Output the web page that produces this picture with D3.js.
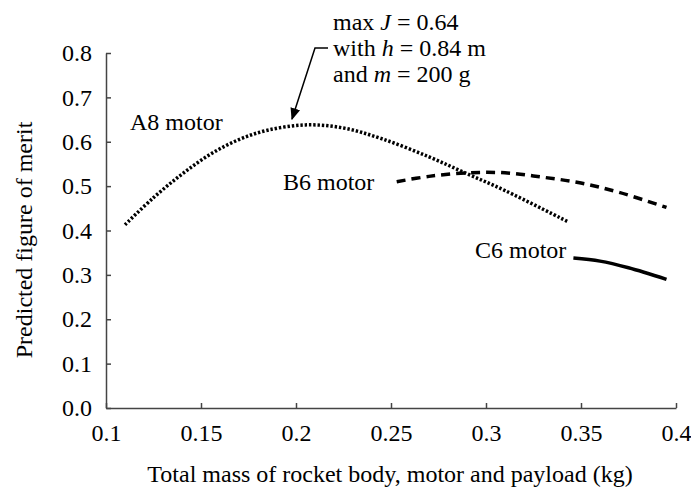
<!DOCTYPE html>
<html>
<head>
<meta charset="utf-8">
<script src="https://cdn.jsdelivr.net/npm/d3@7"></script>
</head>
<body style="margin:0; background:#fff">
<div id="chart"></div>
<script>
// data (mass in kg, figure of merit J)
const a8Mass  = [0.11, 0.125, 0.14, 0.155, 0.17, 0.185, 0.205, 0.225, 0.245, 0.27, 0.29, 0.31, 0.343];
const a8Merit = [0.413, 0.474, 0.527, 0.572, 0.605, 0.626, 0.638, 0.631, 0.607, 0.566, 0.528, 0.49, 0.42];
const b6Mass  = [0.253, 0.27, 0.29, 0.31, 0.33, 0.35, 0.37, 0.395];
const b6Merit = [0.51, 0.522, 0.53, 0.53, 0.52, 0.507, 0.486, 0.452];
const c6Mass  = [0.346, 0.36, 0.375, 0.395];
const c6Merit = [0.338, 0.331, 0.316, 0.29];
const xTicks = [0.1, 0.15, 0.2, 0.25, 0.3, 0.35, 0.4];
const yTicks = [0, 0.1, 0.2, 0.3, 0.4, 0.5, 0.6, 0.7, 0.8];

const width = 691, height = 494;
const margin = {top: 53, right: 15, bottom: 86, left: 106};
const serif = '"Liberation Serif"';
const fs = 24;

const svg = d3.select("#chart").append("svg")
    .attr("width", width)
    .attr("height", height);

const x = d3.scaleLinear().domain([0.1, 0.4]).range([margin.left, width - margin.right]);
const y = d3.scaleLinear().domain([0, 0.8]).range([height - margin.bottom, margin.top]);

// axes, ticks pointing inward
const xAxis = svg.append("g")
    .attr("transform", `translate(0,${y(0)})`)
    .call(d3.axisBottom(x).tickValues(xTicks).tickSizeInner(-5).tickSizeOuter(0).tickPadding(16).tickFormat(d3.format("")));
const yAxis = svg.append("g")
    .attr("transform", `translate(${x(0.1)},0)`)
    .call(d3.axisLeft(y).tickValues(yTicks).tickSizeInner(-5).tickSizeOuter(0).tickPadding(14).tickFormat(d3.format(".1f")));

[xAxis, yAxis].forEach(g => {
    g.selectAll("path, line").attr("stroke", "#444").attr("stroke-width", 1.5);
    g.selectAll("text").attr("fill", "#000").attr("font-size", fs);
});
xAxis.selectAll("text").attr("dy", "0.71em");

// axis titles
svg.append("text")
    .attr("x", 390)
    .attr("y", 482)
    .attr("text-anchor", "middle")
    .attr("font-size", fs)
    .text("Total mass of rocket body, motor and payload (kg)");

svg.append("text")
    .attr("transform", "translate(32,240) rotate(-90)")
    .attr("text-anchor", "middle")
    .attr("font-size", fs)
    .text("Predicted figure of merit");

// curves
const line = d3.line()
    .x(d => x(d[0]))
    .y(d => y(d[1]))
    .curve(d3.curveCatmullRom);

svg.append("path")
    .datum(d3.zip(a8Mass, a8Merit))
    .attr("d", line)
    .attr("fill", "none")
    .attr("stroke", "#000")
    .attr("stroke-width", 3.5)
    .attr("stroke-dasharray", "2.4 1.9");

svg.append("path")
    .datum(d3.zip(b6Mass, b6Merit))
    .attr("d", line)
    .attr("fill", "none")
    .attr("stroke", "#000")
    .attr("stroke-width", 3.5)
    .attr("stroke-dasharray", "9 6");

svg.append("path")
    .datum(d3.zip(c6Mass, c6Merit))
    .attr("d", line)
    .attr("fill", "none")
    .attr("stroke", "#000")
    .attr("stroke-width", 3.5);

// series labels
svg.append("text").attr("x", 130).attr("y", 130).attr("font-size", fs).text("A8 motor");
svg.append("text").attr("x", 283).attr("y", 190).attr("font-size", fs).text("B6 motor");
svg.append("text").attr("x", 475).attr("y", 258).attr("font-size", fs).text("C6 motor");

// annotation for the maximum of A8
const l1 = svg.append("text").attr("font-size", fs).attr("x", 333).attr("y", 30);
l1.append("tspan").text("max ");
l1.append("tspan").style("font-style", "italic").text("J");
l1.append("tspan").text(" = 0.64");
const l2 = svg.append("text").attr("font-size", fs).attr("x", 333).attr("y", 56);
l2.append("tspan").text("with ");
l2.append("tspan").style("font-style", "italic").text("h");
l2.append("tspan").text(" = 0.84 m");
const l3 = svg.append("text").attr("font-size", fs).attr("x", 333).attr("y", 82);
l3.append("tspan").text("and ");
l3.append("tspan").style("font-style", "italic").text("m");
l3.append("tspan").text(" = 200 g");

svg.append("defs").append("marker")
    .attr("id", "arrow")
    .attr("viewBox", "0 0 10 10")
    .attr("refX", 9).attr("refY", 5)
    .attr("markerWidth", 12).attr("markerHeight", 10)
    .attr("markerUnits", "userSpaceOnUse")
    .attr("orient", "auto")
    .attr("preserveAspectRatio", "none")
    .append("path")
    .attr("d", "M0,0 L10,5 L0,10 Z")
    .attr("fill", "#000");

svg.append("path")
    .attr("d", `M328,48 L315,48 L${x(0.2) - 4},${y(0.64) - 5}`)
    .attr("fill", "none")
    .attr("stroke", "#000")
    .attr("stroke-width", 1.5)
    .attr("marker-end", "url(#arrow)");

// serif font on every text
svg.selectAll("text").style("font-family", serif);
</script>
</body>
</html>
